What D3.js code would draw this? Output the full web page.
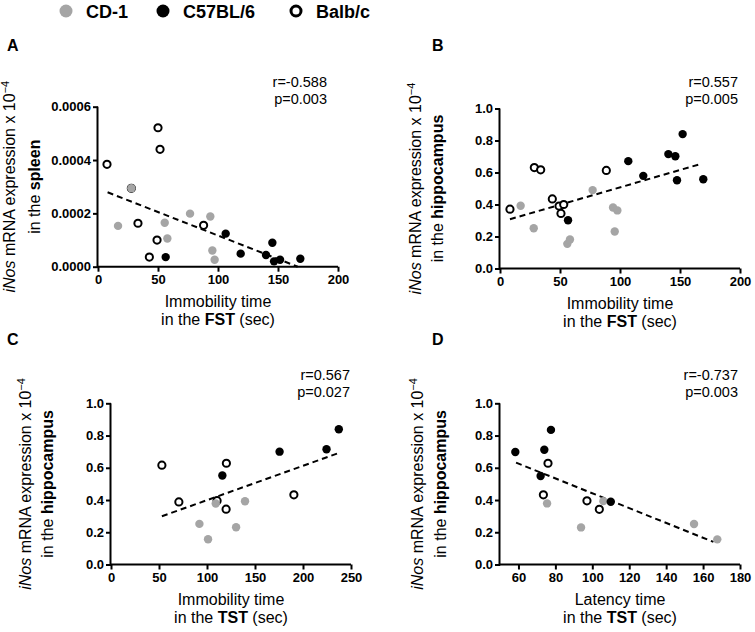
<!DOCTYPE html>
<html>
<head>
<meta charset="utf-8">
<script src="https://cdn.jsdelivr.net/npm/d3@7"></script>
<style>
  html, body { margin: 0; padding: 0; background: #fff; }
  svg { display: block; font-family: "Liberation Sans", Arial, sans-serif; }
</style>
</head>
<body>
<svg id="chart" width="755" height="632"></svg>
<script>
// ---------------- DATA ----------------
const strains = ["CD-1", "C57BL/6", "Balb/c"];

// Panel A: FST immobility (s) vs iNos in spleen
const aCD1x = [27.8, 16.7, 55.6, 57.8, 76.7, 93.6, 95.3, 97.2];
const aCD1y = [0.000294, 0.000153, 0.000165, 0.000106, 0.000199, 0.000188, 0.000061, 0.000026];
const aC57x = [56.4, 106.4, 118.9, 140, 145.3, 146.7, 151.7, 168.6];
const aC57y = [0.000036, 0.000124, 0.000049, 0.000044, 0.00009, 0.00002, 0.000026, 0.00003];
const aBalbx = [7.5, 50, 51.7, 33.3, 49.2, 42.8, 88, 27.8];
const aBalby = [0.000384, 0.000521, 0.00044, 0.000163, 0.0001, 0.000036, 0.000155, 0.000294];
const aFitX = [8, 166.4];
const aFitY = [0.000279, 0];

// Panel B: FST immobility (s) vs iNos in hippocampus
const bCD1x = [17.2, 28.1, 56.1, 58.3, 77.2, 94.2, 97.8, 95.6];
const bCD1y = [0.392, 0.252, 0.154, 0.181, 0.49, 0.381, 0.363, 0.231];
const bC57x = [56.7, 106.9, 119.4, 140.3, 146.1, 147.5, 152.2, 169.4];
const bC57y = [0.302, 0.671, 0.579, 0.715, 0.702, 0.552, 0.84, 0.558];
const bBalbx = [8.3, 28.6, 33.9, 43.6, 49.2, 53.1, 50.8, 88.6];
const bBalby = [0.371, 0.631, 0.617, 0.435, 0.39, 0.4, 0.344, 0.613];
const bFitX = [8.3, 166.7];
const bFitY = [0.308, 0.652];

// Panel C: TST immobility (s) vs iNos in hippocampus
const cCD1x = [92.1, 101.1, 109.1, 130.3, 139.6];
const cCD1y = [0.252, 0.157, 0.378, 0.231, 0.392];
const cC57x = [116, 175.6, 224.5, 237.3];
const cC57y = [0.552, 0.70, 0.715, 0.839];
const cBalbx = [53, 70.7, 110.5, 120.2, 119.9, 190.5];
const cBalby = [0.616, 0.388, 0.396, 0.628, 0.343, 0.432];
const cFitX = [53, 237.3];
const cFitY = [0.299, 0.692];

// Panel D: TST latency (s) vs iNos in hippocampus
const dCD1x = [75.5, 93.9, 106, 155.1, 167.7];
const dCD1y = [0.379, 0.23, 0.393, 0.251, 0.156];
const dC57x = [58.3, 74, 77.6, 72, 110];
const dC57y = [0.698, 0.712, 0.835, 0.549, 0.389];
const dBalbx = [76, 73.5, 97.1, 103.8];
const dBalby = [0.628, 0.432, 0.395, 0.342];
const dFitX = [58.7, 165.6];
const dFitY = [0.632, 0.14];

// Axis ticks & texts
const ticksFSTx = [0, 50, 100, 150, 200];
const ticksTSTx = [0, 50, 100, 150, 200, 250];
const ticksLatx = [60, 80, 100, 120, 140, 160, 180];
const ticksSpleenY = [0, 0.0002, 0.0004, 0.0006];
const ticksHippoY = [0, 0.2, 0.4, 0.6, 0.8, 1.0];
const panelLetters = ["A", "B", "C", "D"];
const statR = ["r=-0.588", "r=0.557", "r=0.567", "r=-0.737"];
const statP = ["p=0.003", "p=0.005", "p=0.027", "p=0.003"];
const tissues = ["spleen", "hippocampus", "hippocampus", "hippocampus"];
const xTitle1 = ["Immobility time", "Immobility time", "Immobility time", "Latency time"];
const xTest = ["FST", "FST", "TST", "TST"];

// ---------------- LAYOUT ----------------
const colors = { "CD-1": "#a5a5a5", "C57BL/6": "#000000" };
const svg = d3.select("#chart");

const zip = (xs, ys) => xs.map((x, i) => [x, ys[i]]);

const panels = [
  { x0: 98, x1: 338, yTop: 106.7, yBot: 266.7, xDom: [0, 200], yDom: [0, 0.0006],
    xTicks: ticksFSTx, yTicks: ticksSpleenY, yFmt: d3.format(".4f"),
    cd1: zip(aCD1x, aCD1y), c57: zip(aC57x, aC57y), balb: zip(aBalbx, aBalby), fit: zip(aFitX, aFitY),
    letter: [7, 51], stat: [327, 87], yt1: 15, yt2: 40 },
  { x0: 500, x1: 740, yTop: 108.5, yBot: 268.5, xDom: [0, 200], yDom: [0, 1],
    xTicks: ticksFSTx, yTicks: ticksHippoY, yFmt: d3.format(".1f"),
    cd1: zip(bCD1x, bCD1y), c57: zip(bC57x, bC57y), balb: zip(bBalbx, bBalby), fit: zip(bFitX, bFitY),
    letter: [432, 51], stat: [738, 87], yt1: 421, yt2: 443 },
  { x0: 111, x1: 351, yTop: 403.3, yBot: 564.5, xDom: [0, 250], yDom: [0, 1],
    xTicks: ticksTSTx, yTicks: ticksHippoY, yFmt: d3.format(".1f"),
    cd1: zip(cCD1x, cCD1y), c57: zip(cC57x, cC57y), balb: zip(cBalbx, cBalby), fit: zip(cFitX, cFitY),
    letter: [7, 345], stat: [350, 380], yt1: 31, yt2: 53 },
  { x0: 500, x1: 740, yTop: 403.3, yBot: 564.5, xDom: [50, 180], yDom: [0, 1],
    xTicks: ticksLatx, yTicks: ticksHippoY, yFmt: d3.format(".1f"),
    cd1: zip(dCD1x, dCD1y), c57: zip(dC57x, dC57y), balb: zip(dBalbx, dBalby), fit: zip(dFitX, dFitY),
    letter: [432, 345], stat: [738, 380], yt1: 423, yt2: 446 }
];

const R = 3.6;

panels.forEach((p, i) => {
  const x = d3.scaleLinear().domain(p.xDom).range([p.x0, p.x1]);
  const y = d3.scaleLinear().domain(p.yDom).range([p.yBot, p.yTop]);
  const g = svg.append("g");

  // axes
  const xAxis = d3.axisBottom(x).tickValues(p.xTicks).tickSize(5).tickPadding(3).tickFormat(d3.format("d"));
  const gx = g.append("g").attr("transform", `translate(0,${p.yBot})`).call(xAxis);
  const yAxis = d3.axisLeft(y).tickValues(p.yTicks).tickSize(5).tickPadding(2).tickFormat(p.yFmt);
  const gy = g.append("g").attr("transform", `translate(${p.x0},0)`).call(yAxis);
  [gx, gy].forEach(a => {
    a.select(".domain").attr("stroke", "#000").attr("stroke-width", 2);
    a.selectAll(".tick line").attr("stroke", "#000").attr("stroke-width", 2);
    a.selectAll(".tick text").attr("fill", "#000").style("font-size", "13px")
      .style("font-weight", "bold").style("font-family", "'Liberation Sans', Arial, sans-serif");
  });
  gy.select(".domain").attr("d", `M-0.5,${p.yBot + 1}V${p.yTop}`);
  gx.select(".domain").attr("d", `M${p.x0 - 1},0H${p.x1}`);

  // regression line
  g.append("path").datum(p.fit)
    .attr("d", d3.line().x(d => x(d[0])).y(d => y(d[1])))
    .attr("fill", "none").attr("stroke", "#000").attr("stroke-width", 2)
    .attr("stroke-dasharray", "6,4");

  // points
  g.selectAll(".balb").data(p.balb).join("circle")
    .attr("cx", d => x(d[0])).attr("cy", d => y(d[1])).attr("r", R)
    .attr("fill", "#fff").attr("stroke", "#000").attr("stroke-width", 2);
  g.selectAll(".cd1").data(p.cd1).join("circle")
    .attr("cx", d => x(d[0])).attr("cy", d => y(d[1])).attr("r", R + 0.6)
    .attr("fill", colors["CD-1"]);
  g.selectAll(".c57").data(p.c57).join("circle")
    .attr("cx", d => x(d[0])).attr("cy", d => y(d[1])).attr("r", R + 0.6)
    .attr("fill", colors["C57BL/6"]);

  // panel letter
  g.append("text").attr("x", p.letter[0]).attr("y", p.letter[1])
    .style("font-size", "16px").style("font-weight", "bold").text(panelLetters[i]);

  // stats
  g.append("text").attr("x", p.stat[0]).attr("y", p.stat[1]).attr("text-anchor", "end")
    .style("font-size", "14.5px").text(statR[i]);
  g.append("text").attr("x", p.stat[0]).attr("y", p.stat[1] + 17).attr("text-anchor", "end")
    .style("font-size", "14.5px").text(statP[i]);

  // x title
  const xc = (p.x0 + p.x1) / 2;
  g.append("text").attr("x", xc).attr("y", p.yBot + 40).attr("text-anchor", "middle")
    .style("font-size", "16px").text(xTitle1[i]);
  const t2 = g.append("text").attr("x", xc).attr("y", p.yBot + 58).attr("text-anchor", "middle")
    .style("font-size", "16px");
  t2.append("tspan").text("in the ");
  t2.append("tspan").style("font-weight", "bold").text(xTest[i]);
  t2.append("tspan").text(" (sec)");

  // y title
  const yc = (p.yTop + p.yBot) / 2;
  const l1 = g.append("text").attr("transform", `translate(${p.yt1},${yc}) rotate(-90)`)
    .attr("text-anchor", "middle").style("font-size", "16px");
  l1.append("tspan").style("font-style", "italic").text("iNos");
  l1.append("tspan").text(" mRNA expression x 10");
  l1.append("tspan").attr("dy", -6).style("font-size", "11px").text("\u22124");
  const l2 = g.append("text").attr("transform", `translate(${p.yt2},${yc}) rotate(-90)`)
    .attr("text-anchor", "middle").style("font-size", "16px");
  l2.append("tspan").text("in the ");
  l2.append("tspan").style("font-weight", "bold").text(tissues[i]);
});

// legend
const legendX = [66, 163, 296];
const legend = svg.append("g");
strains.forEach((s, i) => {
  const c = legend.append("circle").attr("cx", legendX[i]).attr("cy", 11).attr("r", s === "Balb/c" ? 5 : 6.5);
  if (s === "Balb/c") c.attr("fill", "#fff").attr("stroke", "#000").attr("stroke-width", 3);
  else c.attr("fill", colors[s]);
  legend.append("text").attr("x", legendX[i] + 20).attr("y", 17.5)
    .style("font-size", "18px").style("font-weight", "bold").text(s);
});
</script>
</body>
</html>
